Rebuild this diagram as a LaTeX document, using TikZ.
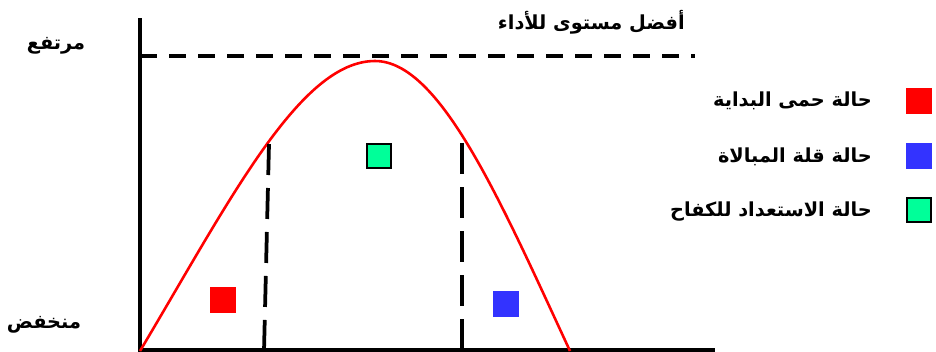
\documentclass[tikz,border=0pt]{standalone}
\usepackage{fontspec}
\newfontfamily\arabicfont[Script=Arabic]{DejaVu Sans}
\TeXXeTstate=1
\usepackage{tikz}
\usetikzlibrary{positioning}
\definecolor{curvered}{RGB}{255,0,0}
\definecolor{lowblue}{RGB}{51,51,255}
\definecolor{readygreen}{RGB}{0,255,153}
\tikzset{
  axis/.style={line width=3.2pt, black},
  guide/.style={line width=3.2pt, black, dash pattern=on 0.51cm off 0.36cm},
  split/.style={line width=3.2pt, black, dash pattern=on 0.93cm off 0.39cm},
  curve/.style={line width=2.2pt, curvered},
  statebox/.style={rectangle, minimum size=0.8cm, inner sep=0pt},
  greenbox/.style={statebox, draw=black, line width=2.4pt, fill=readygreen, minimum size=0.72cm},
  artext/.style={font=\arabicfont\bfseries\fontsize{16.5}{19}\selectfont, inner sep=0pt},
}
\newcommand{\ar}[1]{\beginR #1\endR}

\begin{document}
\begin{tikzpicture}[x=0.03cm, y=-0.03cm]
\useasboundingbox (0,0) rectangle (936,351);
% axes
\coordinate (top) at (140,18);
\coordinate (origin) at (140,350);
\coordinate (xend) at (715,350);
\draw[axis] (top) -- (origin) -- (xend);
% best level
\coordinate (best) at (140,56);
\coordinate (bestend) at (695,56);
\draw[guide] (best) -- (bestend);
% performance curve
\coordinate (p0) at (140,351);
\coordinate (peak) at (375,61);
\coordinate (p1) at (570,351);
\draw[curve] (p0) .. controls (230,200) and (300,61) .. (peak)
  .. controls (440,61) and (500,200) .. (p1);
% phase limits
\coordinate (s1top) at (269,144);
\coordinate (s1bot) at (264,351);
\coordinate (s2top) at (462,143);
\coordinate (s2bot) at (462,351);
\draw[split] (s1top) -- (s1bot);
\draw[split] (s2top) -- (s2bot);
% phase marks
\node[statebox, fill=curvered] (start) at (223,300) {};
\node[greenbox] (ready) at (379,156) {};
\node[statebox, fill=lowblue] (low) at (506,304) {};
% labels
\node[artext] (high) at (56,46) {\ar{مرتفع}};
\node[artext] (down) at (44,325) {\ar{منخفض}};
\node[artext, anchor=east] (bestlbl) at (685,22) {\ar{أفضل مستوى للأداء}};
% legend
\node[statebox, fill=curvered] (k1) at (919,101) {};
\node[statebox, fill=lowblue] (k2) at (919,156) {};
\node[greenbox] (k3) at (919,210) {};
\node[artext, anchor=east] (t1) at (872,101) {\ar{حالة حمى البداية}};
\node[artext, anchor=east] (t2) at (872,157) {\ar{حالة قلة المبالاة}};
\node[artext, anchor=east] (t3) at (872,212) {\ar{حالة الاستعداد للكفاح}};
\end{tikzpicture}
\end{document}
